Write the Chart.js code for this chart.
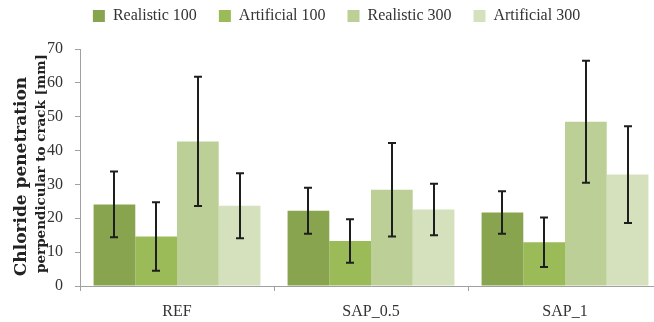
<!DOCTYPE html>
<html>
<head>
<meta charset="utf-8">
<script src="https://cdn.jsdelivr.net/npm/chart.js@4/dist/chart.umd.min.js"></script>
<style>
html,body{margin:0;padding:0;background:#fff;overflow:hidden;width:654px;height:322px;}
#wrap{position:absolute;left:0;top:-14px;width:662px;height:336px;}
</style>
</head>
<body>
<div id="wrap"><canvas id="c"></canvas></div>
<script>
const categories = ["REF", "SAP_0.5", "SAP_1"];
const seriesNames = ["Realistic 100", "Artificial 100", "Realistic 300", "Artificial 300"];
const realistic100 = [24.1, 22.2, 21.7];
const artificial100 = [14.6, 13.3, 12.9];
const realistic300 = [42.7, 28.4, 48.5];
const artificial300 = [23.7, 22.6, 32.9];
const realistic100Err = [9.7, 6.8, 6.3];
const artificial100Err = [10.1, 6.4, 7.3];
const realistic300Err = [19.1, 13.8, 18.0];
const artificial300Err = [9.6, 7.6, 14.3];
const colors = ["#88a44e", "#9bbb59", "#bccf96", "#d4e1bc"];
const yTicks = [0, 10, 20, 30, 40, 50, 60, 70];
const yTitleLines = ["Chloride penetration", "perpendicular to crack [mm]"];

const FONT = "'Liberation Serif', 'DejaVu Serif', serif";
const TFONT = "'DejaVu Serif', 'Liberation Serif', serif";
const values = [realistic100, artificial100, realistic300, artificial300];
const errs = [realistic100Err, artificial100Err, realistic300Err, artificial300Err];

const errorBars = {
  id: 'errorBars',
  afterDatasetsDraw(chart) {
    const ctx = chart.ctx;
    const ys = chart.scales.y;
    ctx.save();
    ctx.strokeStyle = '#1e1e1e';
    ctx.lineWidth = 2;
    chart.data.datasets.forEach((ds, i) => {
      const meta = chart.getDatasetMeta(i);
      meta.data.forEach((bar, j) => {
        const v = ds.data[j], e = ds.errors[j];
        const yt = ys.getPixelForValue(v + e);
        const yb = ys.getPixelForValue(v - e);
        const x = Math.round(bar.x);
        ctx.beginPath();
        ctx.moveTo(x, yt); ctx.lineTo(x, yb);
        ctx.moveTo(x - 4, yt); ctx.lineTo(x + 4, yt);
        ctx.moveTo(x - 4, yb); ctx.lineTo(x + 4, yb);
        ctx.stroke();
      });
    });
    ctx.restore();
  }
};

const yTitle = {
  id: 'yTitle',
  afterDraw(chart) {
    const ctx = chart.ctx;
    const a = chart.chartArea;
    const cy = (a.top + a.bottom) / 2;
    const specs = [
      { text: yTitleLines[0], x: a.left - 58, y: cy + 9, size: 17 },
      { text: yTitleLines[1], x: a.left - 39, y: cy - 4, size: 13.5 }
    ];
    ctx.save();
    ctx.fillStyle = '#222';
    ctx.textAlign = 'center';
    ctx.textBaseline = 'middle';
    specs.forEach(s => {
      ctx.save();
      ctx.translate(s.x, s.y);
      ctx.rotate(-Math.PI / 2);
      ctx.font = 'bold ' + s.size + 'px ' + TFONT;
      ctx.fillText(s.text, 0, 0);
      ctx.restore();
    });
    ctx.restore();
  }
};

const chart = new Chart(document.getElementById('c'), {
  type: 'bar',
  data: {
    labels: categories,
    datasets: seriesNames.map((n, i) => ({
      label: n,
      data: values[i],
      errors: errs[i],
      backgroundColor: colors[i],
      borderWidth: 0,
      categoryPercentage: 0.86,
      barPercentage: 1.0
    }))
  },
  options: {
    responsive: true,
    maintainAspectRatio: false,
    animation: false,
    layout: { padding: { left: 11, right: 0, top: 0, bottom: 0 } },
    plugins: {
      legend: {
        position: 'top',
        labels: {
          boxWidth: 12, boxHeight: 12, padding: 22,
          color: '#333',
          font: { family: FONT, size: 16 }
        }
      },
      tooltip: { enabled: false }
    },
    scales: {
      x: {
        offset: true,
        afterFit(s) { s.height = 36; },
        grid: { offset: true, drawOnChartArea: false, drawTicks: true, tickLength: 5, color: '#a0a0a0' },
        border: { color: '#a0a0a0' },
        ticks: { color: '#333', font: { family: FONT, size: 16 }, padding: 11 }
      },
      y: {
        min: 0, max: 70,
        afterFit(s) { s.width = 69; },
        afterBuildTicks(axis) { axis.ticks = yTicks.map(v => ({ value: v })); },
        grid: { drawOnChartArea: false, drawTicks: true, tickLength: 5, color: '#a0a0a0' },
        border: { color: '#a0a0a0' },
        ticks: { color: '#333', font: { family: FONT, size: 16 }, padding: 12 },
        title: { display: false }
      }
    }
  },
  plugins: [errorBars, yTitle]
});
const origFit = chart.legend.fit;
chart.legend.fit = function () { origFit.call(this); this.height += 15; };
chart.update();
</script>
</body>
</html>
